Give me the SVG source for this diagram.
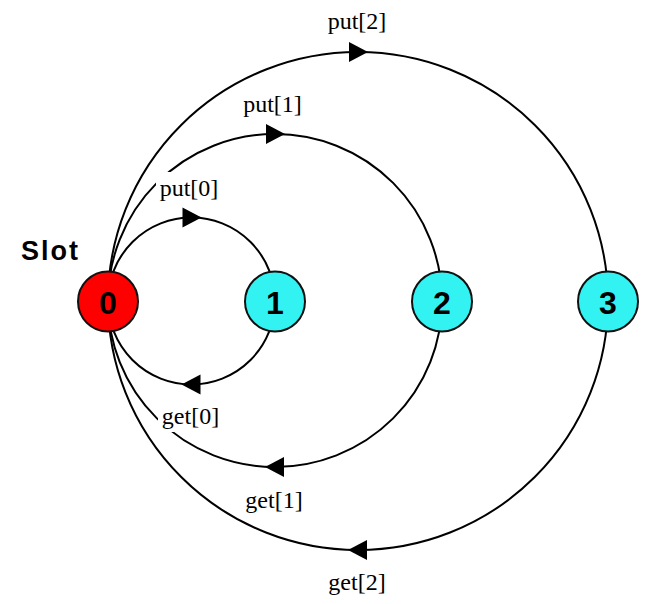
<svg xmlns="http://www.w3.org/2000/svg" width="660" height="604" viewBox="0 0 660 604">
<style>
.arc{fill:none;stroke:#000;stroke-width:2;marker-mid:url(#ah)}
.node{stroke:#111;stroke-width:2}
.num{font-family:"Liberation Sans",Arial,sans-serif;font-weight:bold;font-size:32px;text-anchor:middle;fill:#000}
.lbl{font-family:"Liberation Serif","Times New Roman",serif;font-size:24px;text-anchor:middle;fill:#000}
.bg{fill:#fff}
</style>
<defs>
<marker id="ah" markerUnits="userSpaceOnUse" markerWidth="22" markerHeight="22" viewBox="-11 -11 22 22" refX="0" refY="0" orient="auto" overflow="visible">
<path d="M-9,-10 L10,0 L-9,10 Z" fill="#000"/>
</marker>
</defs>
<rect width="660" height="604" fill="#fff"/>
<g id="connectors">
<path id="put2" class="arc" d="M108,301 A250,249 0 0 1 358,52 A250,249 0 0 1 608,301"/>
<path id="put1" class="arc" d="M108,301 A167,167 0 0 1 275,134 A167,167 0 0 1 442,301"/>
<path id="put0" class="arc" d="M108,301 A83.5,83.5 0 0 1 191.5,217.5 A83.5,83.5 0 0 1 275,301"/>
<path id="get0" class="arc" d="M275,301 A83.5,83.5 0 0 1 191.5,384.5 A83.5,83.5 0 0 1 108,301"/>
<path id="get1" class="arc" d="M442,301 A167,166 0 0 1 275,467 A167,166 0 0 1 108,301"/>
<path id="get2" class="arc" d="M608,301 A250,249 0 0 1 358,550 A250,249 0 0 1 108,301"/>
</g>
<g id="labels">
<text class="lbl" x="357" y="29">put[2]</text>
<text class="lbl" x="272.5" y="112">put[1]</text>
<rect class="bg" x="156" y="172" width="66" height="30"/>
<text class="lbl" x="189" y="196">put[0]</text>
<rect class="bg" x="158" y="404" width="64" height="28"/>
<text class="lbl" x="190.5" y="424">get[0]</text>
<text class="lbl" x="274" y="508">get[1]</text>
<text class="lbl" x="357" y="590">get[2]</text>
<text x="21" y="260" font-family="Liberation Sans,Arial,sans-serif" font-weight="bold" font-size="27" letter-spacing="2" fill="#000">Slot</text>
</g>
<g id="node0">
<circle class="node" cx="108" cy="301.5" r="30" fill="#ff0000"/>
<text class="num" x="108" y="314">0</text>
</g>
<g id="node1">
<circle class="node" cx="275" cy="301.5" r="30" fill="#33f2f2"/>
<text class="num" x="275" y="314">1</text>
</g>
<g id="node2">
<circle class="node" cx="442" cy="301.5" r="30" fill="#33f2f2"/>
<text class="num" x="442" y="314">2</text>
</g>
<g id="node3">
<circle class="node" cx="608" cy="301.5" r="30" fill="#33f2f2"/>
<text class="num" x="608" y="314">3</text>
</g>
</svg>
